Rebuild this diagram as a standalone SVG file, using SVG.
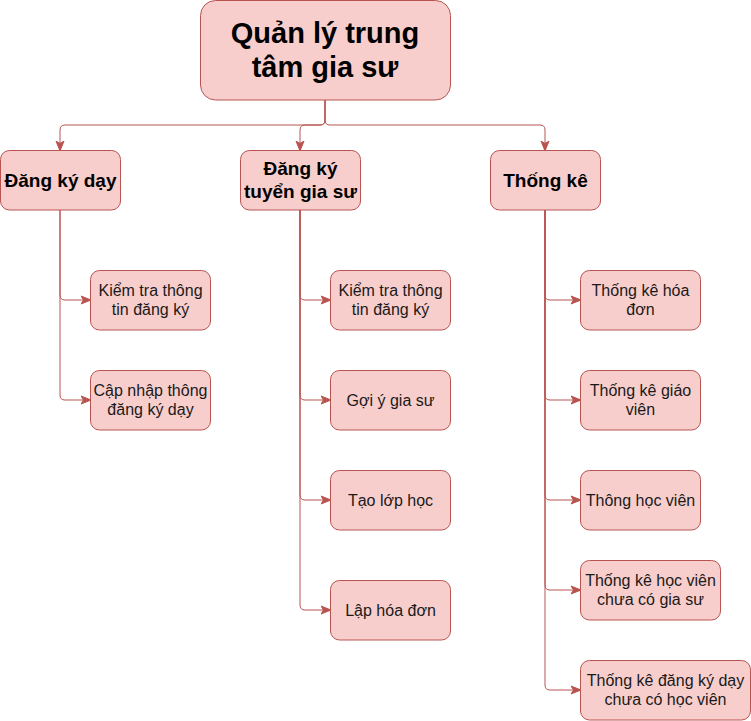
<svg xmlns="http://www.w3.org/2000/svg" width="751" height="721" viewBox="0 0 751 721">
<defs>
<marker id="arr" markerUnits="userSpaceOnUse" markerWidth="10" markerHeight="10" viewBox="0 0 10 10" refX="9" refY="5" orient="auto">
<path d="M0,1 L10,5 L0,9 L2.5,5 z" fill="#b85450" stroke="#b85450" stroke-width="1"/>
</marker>
<style>
.box{fill:#f8cecc;stroke:#b85450;stroke-width:1}
.t{font-family:"Liberation Sans",Arial,Helvetica,sans-serif;font-size:16px;fill:#1a1a1a;text-anchor:middle}
.b{font-weight:bold;font-size:19px;fill:#000}
.r{font-weight:bold;font-size:29px;fill:#000}
.e{fill:none;stroke:#b85450;stroke-width:1;marker-end:url(#arr)}
</style>
</defs>
<rect width="751" height="721" fill="#ffffff"/>
<g id="connectors">
<path class="e" d="M325,100 V120 Q325,125 320,125 H65 Q60,125 60,130 V150"/>
<path class="e" d="M325,100 V120 Q325,125 320,125 H305 Q300,125 300,130 V150"/>
<path class="e" d="M325,100 V120 Q325,125 330,125 H540 Q545,125 545,130 V150"/>
<path class="e" d="M60,210 V295 Q60,300 65,300 H90"/>
<path class="e" d="M60,210 V395 Q60,400 65,400 H90"/>
<path class="e" d="M300,210 V295 Q300,300 305,300 H330"/>
<path class="e" d="M300,210 V395 Q300,400 305,400 H330"/>
<path class="e" d="M300,210 V495 Q300,500 305,500 H330"/>
<path class="e" d="M300,210 V605 Q300,610 305,610 H330"/>
<path class="e" d="M545,210 V295 Q545,300 550,300 H580"/>
<path class="e" d="M545,210 V395 Q545,400 550,400 H580"/>
<path class="e" d="M545,210 V495 Q545,500 550,500 H580"/>
<path class="e" d="M545,210 V585 Q545,590 550,590 H580"/>
<path class="e" d="M545,210 V685 Q545,690 550,690 H580"/>
</g>
<g id="root">
<rect class="box" x="200.5" y="0.5" width="250" height="99.5" rx="15"/>
<text class="t r" x="325" y="42.6">Quản lý trung</text>
<text class="t r" x="325" y="77.4">tâm gia sư</text>
</g>
<g id="dangkyday">
<rect class="box" x="0.5" y="150.5" width="120" height="59.5" rx="9"/>
<text class="t b" x="60.5" y="186.8">Đăng ký dạy</text>
</g>
<g id="dangkytuyen">
<rect class="box" x="240.5" y="150.5" width="120" height="59.5" rx="9"/>
<text class="t b" x="300.5" y="175.4">Đăng ký</text>
<text class="t b" x="300.5" y="198.2">tuyển gia sư</text>
</g>
<g id="thongke">
<rect class="box" x="490.5" y="150.5" width="110" height="59.5" rx="9"/>
<text class="t b" x="545.5" y="186.8">Thống kê</text>
</g>
<g id="kt1">
<rect class="box" x="90.5" y="270.5" width="120" height="59.5" rx="9"/>
<text class="t" x="150.5" y="296">Kiểm tra thông</text>
<text class="t" x="150.5" y="315.2">tin đăng ký</text>
</g>
<g id="capnhap">
<rect class="box" x="90.5" y="370.5" width="120" height="59.5" rx="9"/>
<text class="t" x="150.5" y="396">Cập nhập thông</text>
<text class="t" x="150.5" y="415.2">đăng ký dạy</text>
</g>
<g id="kt2">
<rect class="box" x="330.5" y="270.5" width="120" height="59.5" rx="9"/>
<text class="t" x="390.5" y="296">Kiểm tra thông</text>
<text class="t" x="390.5" y="315.2">tin đăng ký</text>
</g>
<g id="goiy">
<rect class="box" x="330.5" y="370.5" width="120" height="59.5" rx="9"/>
<text class="t" x="390.5" y="405.6">Gợi ý gia sư</text>
</g>
<g id="taolop">
<rect class="box" x="330.5" y="470.5" width="120" height="59.5" rx="9"/>
<text class="t" x="390.5" y="505.6">Tạo lớp học</text>
</g>
<g id="laphoadon">
<rect class="box" x="330.5" y="580.5" width="120" height="59.5" rx="9"/>
<text class="t" x="390.5" y="615.6">Lập hóa đơn</text>
</g>
<g id="tkhoadon">
<rect class="box" x="580.5" y="270.5" width="120" height="59.5" rx="9"/>
<text class="t" x="640.5" y="296">Thống kê hóa</text>
<text class="t" x="640.5" y="315.2">đơn</text>
</g>
<g id="tkgiaovien">
<rect class="box" x="580.5" y="370.5" width="120" height="59.5" rx="9"/>
<text class="t" x="640.5" y="396">Thống kê giáo</text>
<text class="t" x="640.5" y="415.2">viên</text>
</g>
<g id="thonghocvien">
<rect class="box" x="580.5" y="470.5" width="120" height="59.5" rx="9"/>
<text class="t" x="640.5" y="505.6">Thông học viên</text>
</g>
<g id="tkhvchuags">
<rect class="box" x="580.5" y="560.5" width="140" height="59.5" rx="9"/>
<text class="t" x="650.5" y="586">Thống kê học viên</text>
<text class="t" x="650.5" y="605.2">chưa có gia sư</text>
</g>
<g id="tkdkchuahv">
<rect class="box" x="580.5" y="660.5" width="170" height="59.5" rx="9"/>
<text class="t" x="665.5" y="686">Thống kê đăng ký dạy</text>
<text class="t" x="665.5" y="705.2">chưa có học viên</text>
</g>
</svg>
